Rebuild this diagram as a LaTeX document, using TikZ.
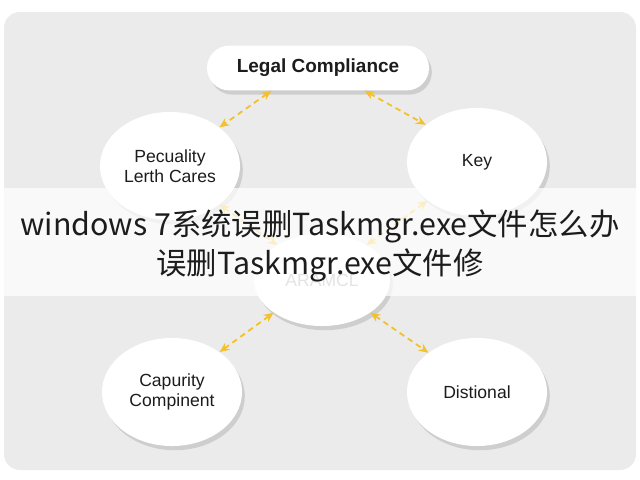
\documentclass[tikz,border=0pt]{standalone}
\usepackage{fontspec}
\setmainfont{Liberation Sans}
\newfontfamily\cjk{Noto Sans CJK SC}
\usetikzlibrary{positioning,arrows.meta,shapes.geometric,shadows}
\definecolor{panel}{HTML}{EBEBEB}
\definecolor{gold}{HTML}{F2C12E}
\definecolor{ink}{HTML}{1C1C1C}
\definecolor{faint}{HTML}{A0A0A0}

\begin{document}
\begin{tikzpicture}[x=0.025cm,y=-0.025cm,
  topic/.style={ellipse,fill=white,minimum width=3.5cm,minimum height=2.7cm,inner sep=1pt,
    align=center,text=ink,font=\fontsize{12.5}{14}\selectfont,
    drop shadow={shadow xshift=2pt,shadow yshift=-3pt,opacity=0.12,fill=black}},
  pill/.style={rectangle,rounded corners=0.56cm,fill=white,minimum width=5.55cm,minimum height=1.12cm,
    text=ink,font=\fontsize{13.5}{15}\selectfont\bfseries,
    drop shadow={shadow xshift=2pt,shadow yshift=-3pt,opacity=0.12,fill=black}},
  link/.style={draw=gold,line width=1.3pt,dash pattern=on 4pt off 3pt,
    {Stealth[length=7pt,width=6pt]}-{Stealth[length=7pt,width=6pt]}}
]
% ---- backdrop
\useasboundingbox (0,0) rectangle (640,480);
\fill[white] (0,0) rectangle (640,480);
\fill[panel,rounded corners=0.4cm] (4,12) rectangle (636,470);
% ---- nodes
\node[pill] (legal) at (318,68) {Legal Compliance};
\foreach \n/\p/\t in {pec/{170,166}/{Pecuality\\Lerth Cares}, key/{477,162}/{Key},
                      cap/{172,392}/{Capurity\\Compinent}, dist/{477,392}/{Distional}}
  \node[topic] (\n) at (\p) {\t};
\node[topic,minimum width=3.4cm,minimum height=2.3cm,text=faint] (hub) at (322,280) {ARAMCL};
% ---- dashed links
\draw[link] (legal.206) -- (pec.38);
\draw[link] (legal.-26) -- (key.144);
\draw[link] (pec.-38) -- (hub.142);
\draw[link] (key.-142) -- (hub.38);
\draw[link] (hub.214) -- (cap.40);
\draw[link] (hub.-34) -- (dist.141);
% ---- title band
\fill[white,opacity=0.72] (0,188) rectangle (640,296);
\node[font=\cjk\fontsize{21.6}{27.5}\selectfont,text=ink,align=center] (title) at (320,246)
  {windows 7系统误删Taskmgr.exe文件怎么办\\误删Taskmgr.exe文件修};
\end{tikzpicture}
\end{document}
